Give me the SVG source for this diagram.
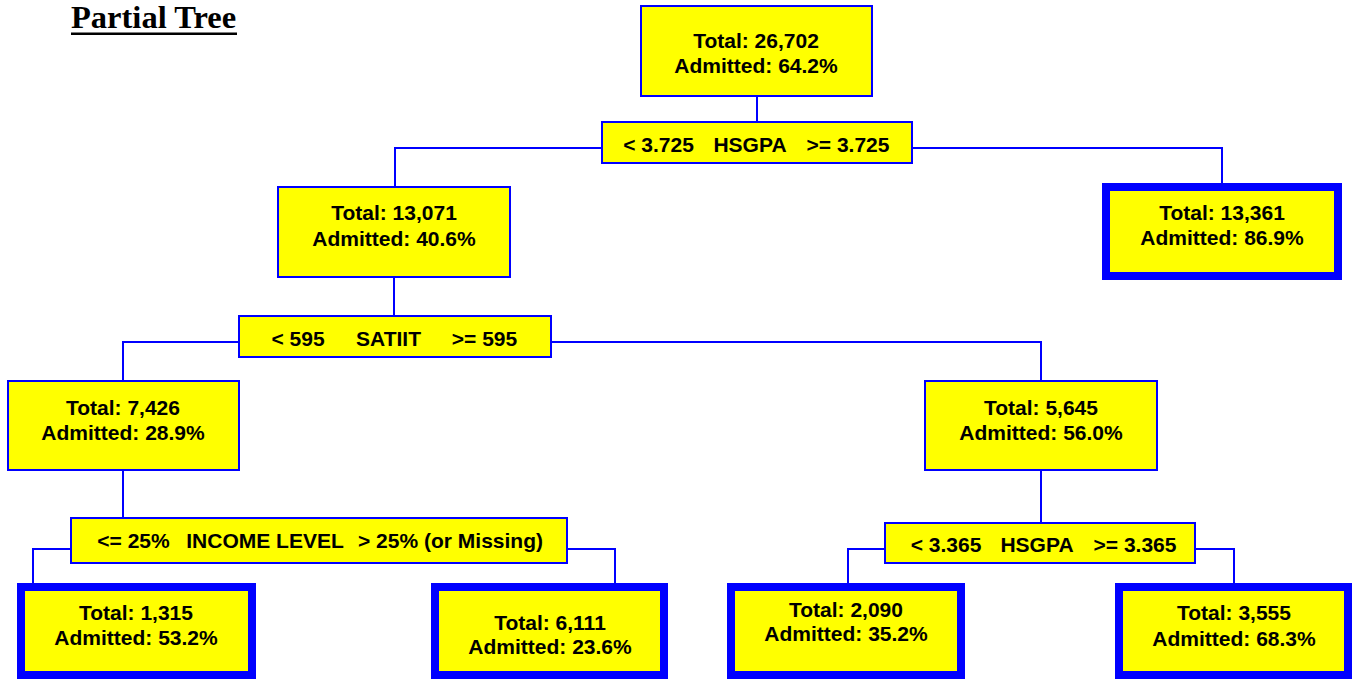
<svg xmlns="http://www.w3.org/2000/svg" width="1353" height="679" viewBox="0 0 1353 679">
<style>
.box{fill:#FFFF00;stroke:#0000FF;stroke-width:2}
.leaf{fill:#FFFF00;stroke:#0000FF;stroke-width:8}
.t{font-family:"Liberation Sans",Arial,sans-serif;font-weight:bold;font-size:21px;fill:#000;text-anchor:middle}
.c{fill:none;stroke:#0000FF;stroke-width:2}
</style>
<rect width="1353" height="679" fill="#FFFFFF"/>
<g id="title">
<text x="71" y="28" font-family="'Liberation Serif','Times New Roman',serif" font-weight="bold" font-size="32.5" fill="#000">Partial Tree</text>
<rect x="71" y="32.5" width="166" height="2.5" fill="#000"/>
</g>
<g id="connectors">
<path class="c" d="M757,96 V122"/>
<path class="c" d="M602,148 H395 V187"/>
<path class="c" d="M912,148 H1222 V183"/>
<path class="c" d="M394,277 V316"/>
<path class="c" d="M239,342 H123 V381"/>
<path class="c" d="M551,342 H1041 V381"/>
<path class="c" d="M123,470 V518"/>
<path class="c" d="M71,549 H33 V583"/>
<path class="c" d="M567,549 H615 V583"/>
<path class="c" d="M1041,470 V523"/>
<path class="c" d="M885,549 H848 V583"/>
<path class="c" d="M1195,549 H1234 V583"/>
</g>
<g id="root">
<rect class="box" x="641" y="6" width="231" height="90"/>
<text class="t" x="756" y="48">Total: 26,702</text>
<text class="t" x="756" y="73">Admitted: 64.2%</text>
</g>
<g id="split-hsgpa-1">
<rect class="box" x="602" y="122" width="310" height="41"/>
<text class="t" x="658.5" y="152">&lt; 3.725</text>
<text class="t" x="750" y="152">HSGPA</text>
<text class="t" x="848" y="152">&gt;= 3.725</text>
</g>
<g id="node-13071">
<rect class="box" x="278" y="187" width="232" height="90"/>
<text class="t" x="394" y="220">Total: 13,071</text>
<text class="t" x="394" y="246">Admitted: 40.6%</text>
</g>
<g id="leaf-13361">
<rect class="leaf" x="1106" y="187" width="232" height="89"/>
<text class="t" x="1222" y="220">Total: 13,361</text>
<text class="t" x="1222" y="245">Admitted: 86.9%</text>
</g>
<g id="split-satiit">
<rect class="box" x="239" y="316" width="312" height="41"/>
<text class="t" x="298" y="346">&lt; 595</text>
<text class="t" x="388.5" y="346">SATIIT</text>
<text class="t" x="484.5" y="346">&gt;= 595</text>
</g>
<g id="node-7426">
<rect class="box" x="8" y="381" width="231" height="89"/>
<text class="t" x="123" y="415">Total: 7,426</text>
<text class="t" x="123" y="440">Admitted: 28.9%</text>
</g>
<g id="node-5645">
<rect class="box" x="925" y="381" width="232" height="89"/>
<text class="t" x="1041" y="415">Total: 5,645</text>
<text class="t" x="1041" y="440">Admitted: 56.0%</text>
</g>
<g id="split-income">
<rect class="box" x="71" y="518" width="496" height="45"/>
<text class="t" x="133.5" y="548">&lt;= 25%</text>
<text class="t" x="265" y="548">INCOME LEVEL</text>
<text class="t" x="450.5" y="548">&gt; 25% (or Missing)</text>
</g>
<g id="split-hsgpa-2">
<rect class="box" x="885" y="523" width="310" height="40"/>
<text class="t" x="946" y="552">&lt; 3.365</text>
<text class="t" x="1037" y="552">HSGPA</text>
<text class="t" x="1135" y="552">&gt;= 3.365</text>
</g>
<g id="leaf-1315">
<rect class="leaf" x="21" y="587" width="231" height="88"/>
<text class="t" x="136" y="620">Total: 1,315</text>
<text class="t" x="136" y="645">Admitted: 53.2%</text>
</g>
<g id="leaf-6111">
<rect class="leaf" x="435" y="587" width="229" height="88"/>
<text class="t" x="550" y="630">Total: 6,111</text>
<text class="t" x="550" y="654">Admitted: 23.6%</text>
</g>
<g id="leaf-2090">
<rect class="leaf" x="731" y="587" width="230" height="88"/>
<text class="t" x="846" y="617">Total: 2,090</text>
<text class="t" x="846" y="641">Admitted: 35.2%</text>
</g>
<g id="leaf-3555">
<rect class="leaf" x="1119" y="587" width="229" height="88"/>
<text class="t" x="1234" y="620">Total: 3,555</text>
<text class="t" x="1234" y="646">Admitted: 68.3%</text>
</g>
</svg>
